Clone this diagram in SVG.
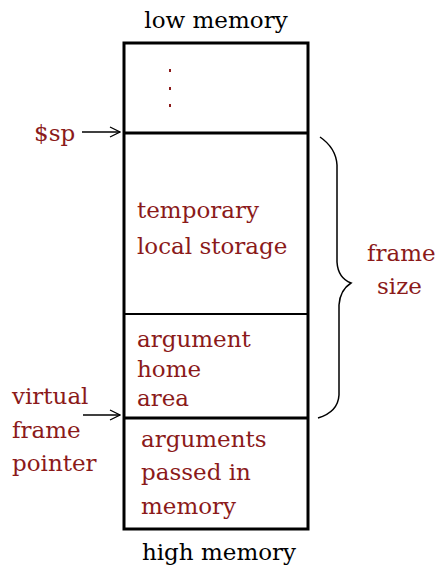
<svg xmlns="http://www.w3.org/2000/svg" width="438" height="571" viewBox="0 0 438 571">
<style>
text{font-family:"DejaVu Serif","Liberation Serif",serif;font-size:23px}
.r{fill:#8b1a1a}
.k{fill:#000}
.box{fill:none;stroke:#000;stroke-width:3}
.thin{stroke:#000;stroke-width:1.5;fill:none}
</style>
<defs>
<marker id="ah" markerWidth="12" markerHeight="12" refX="11" refY="6" orient="auto" markerUnits="userSpaceOnUse">
<path d="M1,1 L11,6 L1,11" fill="none" stroke="#000" stroke-width="1.3"/>
</marker>
</defs>
<rect width="438" height="571" fill="#fff"/>
<g id="stack">
<rect class="box" x="124" y="43" width="184" height="486"/>
<line x1="124" y1="133" x2="308" y2="133" stroke="#000" stroke-width="3"/>
<line x1="124" y1="314" x2="308" y2="314" stroke="#000" stroke-width="2"/>
<line x1="124" y1="418" x2="308" y2="418" stroke="#000" stroke-width="3"/>
</g>
<g id="labels-outside">
<text class="k" x="216" y="28" text-anchor="middle">low memory</text>
<text class="k" x="219" y="560" text-anchor="middle">high memory</text>
</g>
<g id="dots" class="r">
<rect x="169" y="69" width="2" height="3" fill="#8b1a1a"/>
<rect x="169" y="87" width="2" height="3" fill="#8b1a1a"/>
<rect x="169" y="104" width="2" height="3" fill="#8b1a1a"/>
</g>
<g id="local">
<text class="r" x="137" y="218">temporary</text>
<text class="r" x="137" y="254">local storage</text>
</g>
<g id="arghome">
<text class="r" x="137" y="347">argument</text>
<text class="r" x="137" y="377">home</text>
<text class="r" x="137" y="406">area</text>
</g>
<g id="argsmem">
<text class="r" x="141" y="447">arguments</text>
<text class="r" x="141" y="480">passed in</text>
<text class="r" x="141" y="514">memory</text>
</g>
<g id="sp">
<text class="r" x="34" y="141">$sp</text>
</g>
<g id="vfp">
<text class="r" x="12" y="404">virtual</text>
<text class="r" x="12" y="438">frame</text>
<text class="r" x="12" y="471">pointer</text>
</g>
<g id="framesize">
<text class="r" x="367" y="261">frame</text>
<text class="r" x="377" y="294">size</text>
</g>
<g id="connectors">
<line class="thin" x1="82" y1="132" x2="120" y2="132" marker-end="url(#ah)"/>
<line class="thin" x1="83" y1="415" x2="120" y2="415" marker-end="url(#ah)"/>
<path class="thin" d="M320,137 Q336,148 337,165 L337,262 Q338,278 351,283 Q340,290 339,305 L339,395 Q338,412 318,418"/>
</g>
</svg>
